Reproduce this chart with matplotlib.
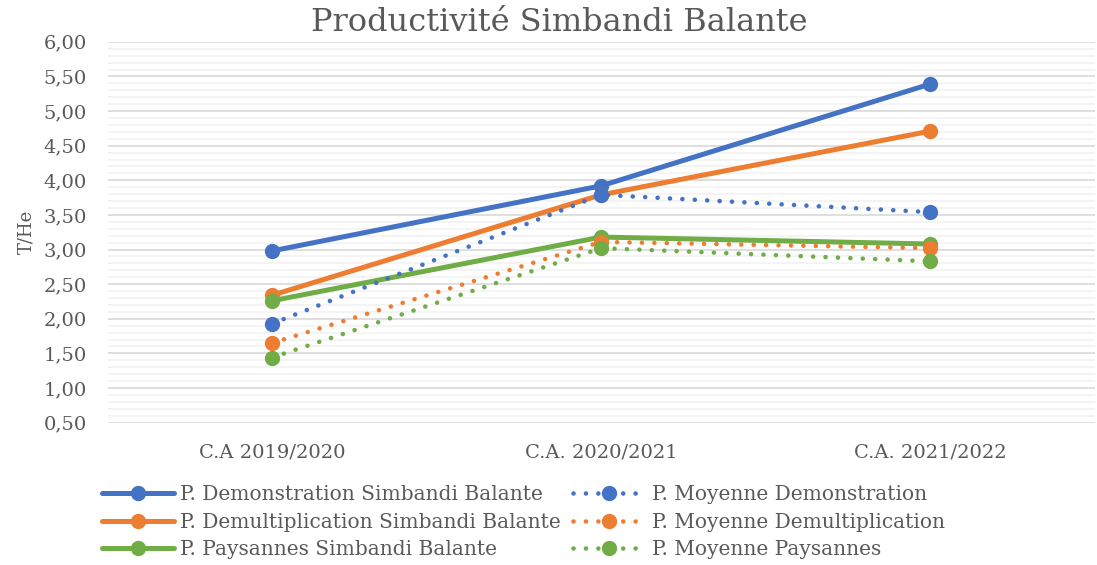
import matplotlib.pyplot as plt
from matplotlib.ticker import MultipleLocator, FuncFormatter

# campaigns on the x axis
campaigns = ["C.A 2019/2020", "C.A. 2020/2021", "C.A. 2021/2022"]

# yields in T/He
demo_simbandi = [2.98, 3.92, 5.39]
demult_simbandi = [2.34, 3.79, 4.71]
paysannes_simbandi = [2.26, 3.18, 3.08]
moy_demo = [1.93, 3.79, 3.54]
moy_demult = [1.65, 3.11, 3.02]
moy_paysannes = [1.44, 3.02, 2.83]

BLUE, ORANGE, GREEN = "#4472C4", "#ED7D31", "#70AD47"
TXT = "#595959"
DOTS = (0, (0.01, 2.7))

plt.rcParams["font.family"] = ["DejaVu Serif"]

fig = plt.figure(figsize=(10.97, 5.65), dpi=100)
ax = fig.add_axes([0.098, 0.252, 0.9, 0.674])

x = range(len(campaigns))
# solid series first, then the averages -> two legend columns like excel
series = [
    ("P. Demonstration Simbandi Balante", demo_simbandi, BLUE, "-"),
    ("P. Demultiplication Simbandi Balante", demult_simbandi, ORANGE, "-"),
    ("P. Paysannes Simbandi Balante", paysannes_simbandi, GREEN, "-"),
    ("P. Moyenne Demonstration", moy_demo, BLUE, DOTS),
    ("P. Moyenne Demultiplication", moy_demult, ORANGE, DOTS),
    ("P. Moyenne Paysannes", moy_paysannes, GREEN, DOTS),
]
for label, vals, col, ls in series:
    lw = 3.6 if ls == "-" else 3.3
    ax.plot(x, vals, linestyle=ls, color=col, lw=lw, marker="o", ms=10,
            label=label, solid_capstyle="round", dash_capstyle="round")

ax.set_xlim(-0.5, 2.5)
ax.set_ylim(0.5, 6.0)
ax.yaxis.set_major_locator(MultipleLocator(0.5))
ax.yaxis.set_minor_locator(MultipleLocator(0.1))
ax.yaxis.set_major_formatter(FuncFormatter(lambda v, p: f"{v:.2f}".replace(".", ",")))
ax.set_xticks(list(x))
ax.set_xticklabels(campaigns)

ax.grid(axis="y", which="major", color="#D9D9D9", lw=1.2)
ax.grid(axis="y", which="minor", color="#F2F2F2", lw=1.2)
ax.set_axisbelow(True)
for s in ax.spines.values():
    s.set_visible(False)
ax.tick_params(axis="both", which="both", length=0, colors=TXT, labelsize=14)
ax.tick_params(axis="x", pad=15)
ax.tick_params(axis="y", pad=15)

ax.set_ylabel("T/He", color=TXT, fontsize=13, labelpad=6)
fig.text(0.51, 0.945, "Productivité Simbandi Balante", color=TXT, fontsize=23,
         ha="center", va="baseline")

h, l = ax.get_legend_handles_labels()
fig.legend(h, l, ncol=2, loc="lower center", bbox_to_anchor=(0.477, -0.022),
           frameon=False, fontsize=14.5, labelcolor=TXT, handlelength=3.6,
           handletextpad=0.3, columnspacing=0.6, labelspacing=0.42)

fig.savefig("out.png", dpi=100)
